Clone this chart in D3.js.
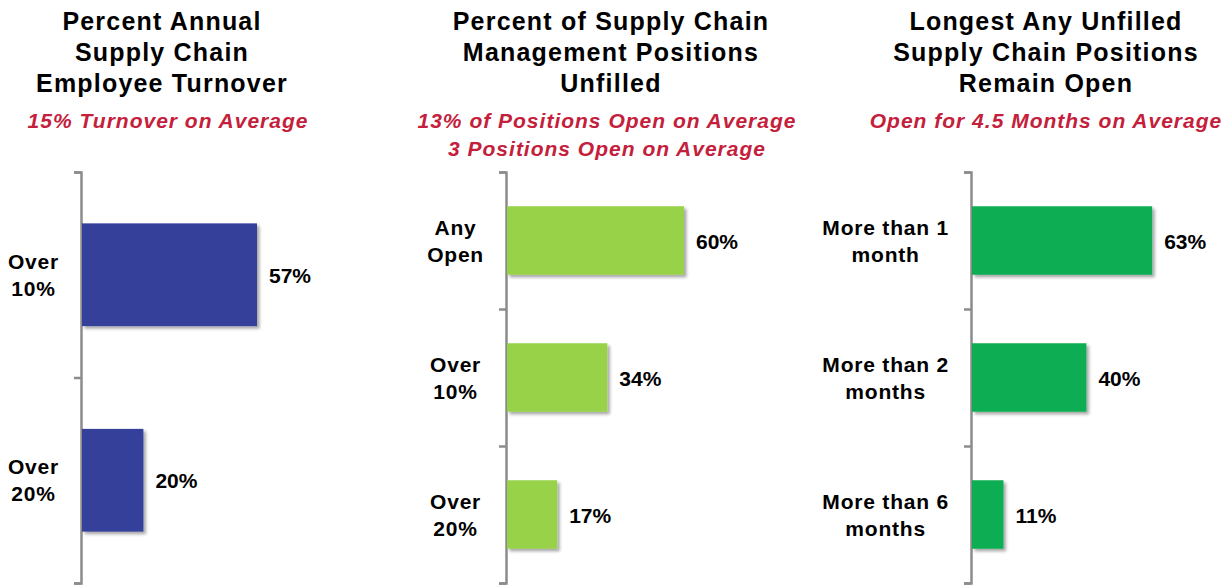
<!DOCTYPE html>
<meta charset="utf-8">

<!-- Load d3.js -->
<script src="https://d3js.org/d3.v7.min.js"></script>

<style>
  body { margin: 0; background: #fff; }
  text { font-family: "Liberation Sans", Arial, sans-serif; font-weight: bold; }
</style>

<body>
<div id="chart"></div>

<script>

  // data, one set of arrays per panel
  const turnoverLabels = [["Over", "10%"], ["Over", "20%"]];
  const turnoverValues = [57, 20];

  const unfilledLabels = [["Any", "Open"], ["Over", "10%"], ["Over", "20%"]];
  const unfilledValues = [60, 34, 17];

  const openLabels = [["More than 1", "month"], ["More than 2", "months"], ["More than 6", "months"]];
  const openValues = [63, 40, 11];

  const titles = [
    ["Percent Annual", "Supply Chain", "Employee Turnover"],
    ["Percent of Supply Chain", "Management Positions", "Unfilled"],
    ["Longest Any Unfilled", "Supply Chain Positions", "Remain Open"]
  ];
  const subtitles = [
    ["15% Turnover on Average"],
    ["13% of Positions Open on Average", "3 Positions Open on Average"],
    ["Open for 4.5 Months on Average"]
  ];

  const width = 1228, height = 586;

  const svg = d3.select("#chart")
    .append("svg")
      .attr("width", width)
      .attr("height", height);

  // soft shadow under the bars
  svg.append("defs")
    .append("filter")
      .attr("id", "shadow")
      .attr("x", "-10%").attr("y", "-10%")
      .attr("width", "130%").attr("height", "130%")
    .append("feDropShadow")
      .attr("dx", 2.5).attr("dy", 2.5)
      .attr("stdDeviation", 1.8)
      .attr("flood-color", "#000")
      .attr("flood-opacity", 0.35);

  // panel layout: title centre, subtitle centre, axis x, px width for 100%
  const panels = [
    {labels: turnoverLabels, values: turnoverValues, color: "#353f9a", cx: 162, sx: 168, axisX: 81, span: 307},
    {labels: unfilledLabels, values: unfilledValues, color: "#97d24a", cx: 611, sx: 607, axisX: 506, span: 295},
    {labels: openLabels, values: openValues, color: "#0aad52", cx: 1046, sx: 1046, axisX: 971, span: 286}
  ];

  const axisTop = 172, axisBottom = 583;

  panels.forEach(function(p, i) {
    const g = svg.append("g");

    // title
    g.append("text")
      .attr("text-anchor", "middle")
      .attr("font-size", "25px")
      .attr("letter-spacing", "1.2px")
      .attr("fill", "#000")
      .selectAll("tspan")
      .data(titles[i])
      .join("tspan")
        .attr("x", p.cx)
        .attr("y", (d, j) => 30 + j * 31)
        .text(d => d);

    // red subtitle
    g.append("text")
      .attr("text-anchor", "middle")
      .attr("font-size", "21px")
      .attr("font-style", "italic")
      .attr("letter-spacing", "1px")
      .attr("fill", "#c4203b")
      .selectAll("tspan")
      .data(subtitles[i])
      .join("tspan")
        .attr("x", p.sx)
        .attr("y", (d, j) => 128 + j * 28)
        .text(d => d);

    const n = p.values.length;
    const idx = d3.range(n);

    // scales
    const y = d3.scaleBand()
      .domain(idx)
      .range([axisTop, axisBottom])
      .paddingInner(0.5)
      .paddingOuter(0.25);
    const x = d3.scaleLinear()
      .domain([0, 100])
      .range([p.axisX + 1, p.axisX + 1 + p.span]);

    // bracket shaped axis with ticks at band edges
    const yEdge = d3.scaleLinear().domain([0, n]).range([axisTop, axisBottom]);
    const axis = g.append("g")
      .attr("transform", `translate(${p.axisX},0)`)
      .call(d3.axisLeft(yEdge).tickValues(d3.range(n + 1)).tickSize(7).tickSizeOuter(7).tickFormat(""));
    axis.selectAll("path, line")
      .attr("stroke", "#8c8c8c")
      .attr("stroke-width", 2.5);

    // bars
    g.append("g")
      .selectAll("rect")
      .data(idx)
      .join("rect")
        .attr("x", x(0))
        .attr("y", d => y(d))
        .attr("width", d => x(p.values[d]) - x(0))
        .attr("height", y.bandwidth())
        .attr("fill", p.color)
        .attr("filter", "url(#shadow)");

    // value labels
    g.append("g")
      .selectAll("text")
      .data(idx)
      .join("text")
        .attr("x", d => x(p.values[d]) + 12)
        .attr("y", d => y(d) + y.bandwidth() / 2 + 8)
        .attr("font-size", "21px")
        .attr("fill", "#000")
        .text(d => p.values[d] + "%");

    // category labels, centred as a block left of the axis
    const cats = g.append("g")
      .selectAll("text")
      .data(idx)
      .join("text")
        .attr("text-anchor", "middle")
        .attr("font-size", "21px")
        .attr("letter-spacing", "0.8px")
        .attr("fill", "#000");
    cats.selectAll("tspan")
      .data(d => p.labels[d].map(t => ({t: t, d: d})))
      .join("tspan")
        .attr("y", (e, j) => y(e.d) + y.bandwidth() / 2 + (j - 0.5) * 27 + 7.5)
        .text(e => e.t);

    let maxW = 0;
    cats.selectAll("tspan").each(function() { maxW = Math.max(maxW, this.getComputedTextLength()); });
    cats.selectAll("tspan").attr("x", p.axisX - 22 - maxW / 2);
  });

</script>
</body>
